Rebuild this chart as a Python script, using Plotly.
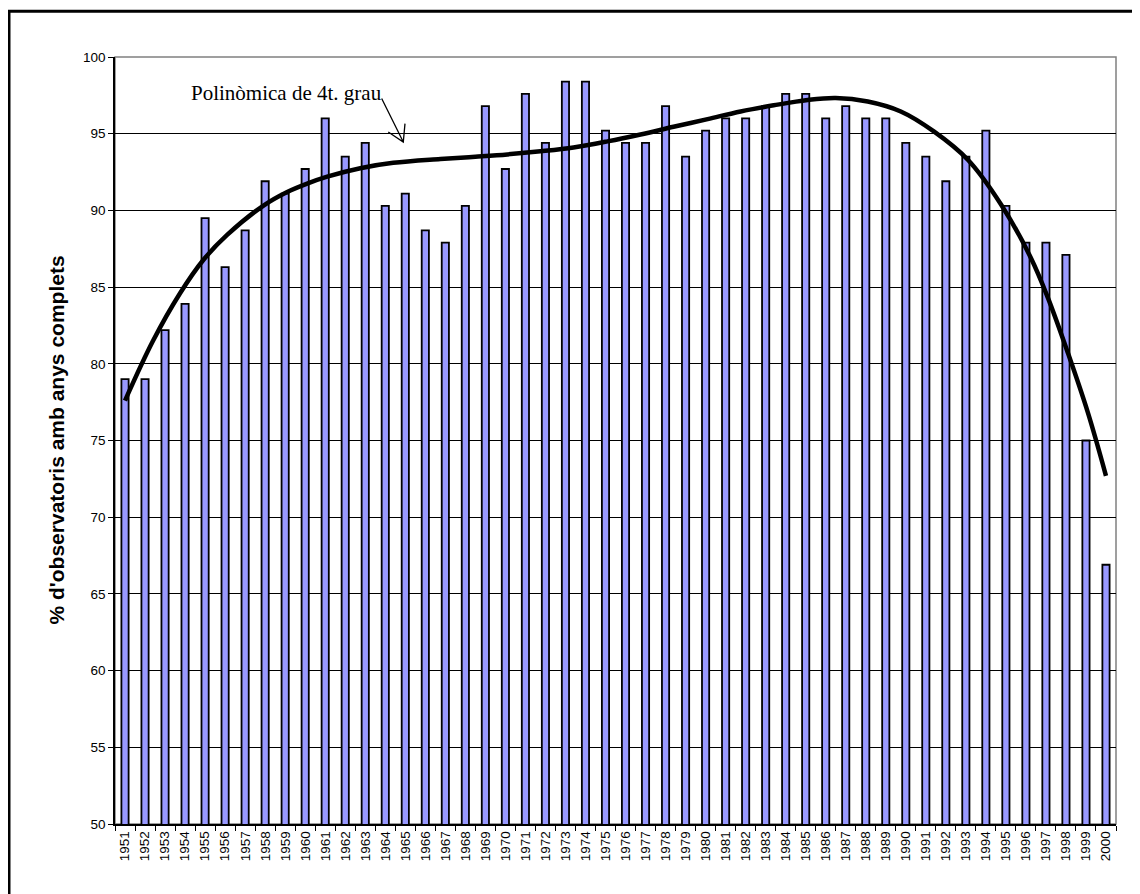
import plotly.graph_objects as go

years = [str(y) for y in range(1951, 2001)]
pct = [79.0, 79.0, 82.2, 83.9, 89.5, 86.3, 88.7, 91.9, 91.1, 92.7,
       96.0, 93.5, 94.4, 90.3, 91.1, 88.7, 87.9, 90.3, 96.8, 92.7,
       97.6, 94.4, 98.4, 98.4, 95.2, 94.4, 94.4, 96.8, 93.5, 95.2,
       96.0, 96.0, 96.8, 97.6, 97.6, 96.0, 96.8, 96.0, 96.0, 94.4,
       93.5, 91.9, 93.5, 95.2, 90.3, 87.9, 87.9, 87.1, 75.0, 66.9]

# 4th-degree polynomial trend line
trend_x = [1951, 1952.4, 1953.75, 1954.9, 1956.1, 1957.9, 1959.1, 1960.1, 1961.1,
           1962.75, 1964.4, 1966.75, 1968.5, 1970.1, 1971.75, 1973.4, 1975.1,
           1976.75, 1978.4, 1980.1, 1981.75, 1983.4, 1985.1, 1986.5, 1988.1,
           1989.75, 1991.4, 1993.1, 1994.75, 1996.25, 1997.1, 1998.1, 1999.1, 2000]
trend_y = [77.6, 81.5, 84.6, 86.75, 88.4, 90.3, 91.2, 91.75, 92.2,
           92.75, 93.1, 93.35, 93.5, 93.65, 93.85, 94.1, 94.5,
           94.95, 95.45, 95.95, 96.45, 96.85, 97.2, 97.33, 97.1,
           96.45, 95.15, 93.3, 90.4, 86.9, 84.3, 80.7, 76.8, 72.7]

y_ticks = list(range(50, 101, 5))

fig = go.Figure()
fig.add_trace(go.Bar(
    x=years, y=pct, width=0.36,
    marker=dict(color="#9999FF", line=dict(color="black", width=1.8)),
    showlegend=False, hoverinfo="x+y",
))
fig.add_trace(go.Scatter(
    x=trend_x, y=trend_y, xaxis="x2", mode="lines",
    line=dict(color="black", width=4.5, shape="spline", smoothing=1.0),
    showlegend=False,
))

fig.update_layout(
    width=1132, height=886,
    margin=dict(l=107, r=24, t=49, b=70),
    paper_bgcolor="white", plot_bgcolor="white",
    font=dict(family="Arial, Liberation Sans, sans-serif", color="black", size=13),
    xaxis=dict(type="category", range=[-0.5, 49.5], tickson="boundaries",
               ticks="outside", ticklen=5, tickcolor="black", tickwidth=1,
               tickangle=-90, tickfont=dict(size=13.5, color="black"),
               showline=True, linecolor="black", linewidth=1.5,
               showgrid=False, zeroline=False, fixedrange=True),
    xaxis2=dict(overlaying="x", range=[1950.5, 2000.5], visible=False,
                fixedrange=True),
    yaxis=dict(range=[50, 100], tickvals=y_ticks, ticks="outside", ticklen=5,
               tickcolor="black", tickfont=dict(size=13.5, color="black"),
               showline=True, linecolor="black", linewidth=1.5,
               showgrid=True, gridcolor="black", gridwidth=1,
               zeroline=False, fixedrange=True),
    bargap=0.6,
)

shapes = [
    # plot frame (gray right side)
    dict(type="rect", xref="paper", yref="paper", x0=0, x1=1, y0=0, y1=1,
         line=dict(color="#808080", width=1.5), layer="below"),
    # outer border of the chart
    dict(type="rect", xref="paper", yref="paper", x0=-0.1059, x1=1.04,
         y0=-0.11, y1=1.0596, line=dict(color="black", width=3)),
    # arrow pointing at the trend line
    dict(type="path", xref="paper", yref="paper",
         path="M 0.2664,0.9458 L 0.2880,0.8892 M 0.2730,0.9023 L 0.2880,0.8892 L 0.2897,0.9132",
         line=dict(color="black", width=1.3)),
]
fig.update_layout(shapes=shapes)

fig.add_annotation(
    text="Polinòmica de 4t. grau", xref="paper", yref="paper",
    x=0.1711, y=0.953, xanchor="center", yanchor="middle", showarrow=False,
    font=dict(family="Liberation Serif, Times New Roman, serif", size=21, color="black"),
)
fig.add_annotation(
    text="<b>% d'observatoris amb anys complets</b>", xref="paper", yref="paper",
    x=-0.0589, y=0.5, xanchor="center", yanchor="middle", textangle=-90,
    showarrow=False, font=dict(family="Arial, Liberation Sans, sans-serif", size=21, color="black"),
)

fig.write_html("out.html")
